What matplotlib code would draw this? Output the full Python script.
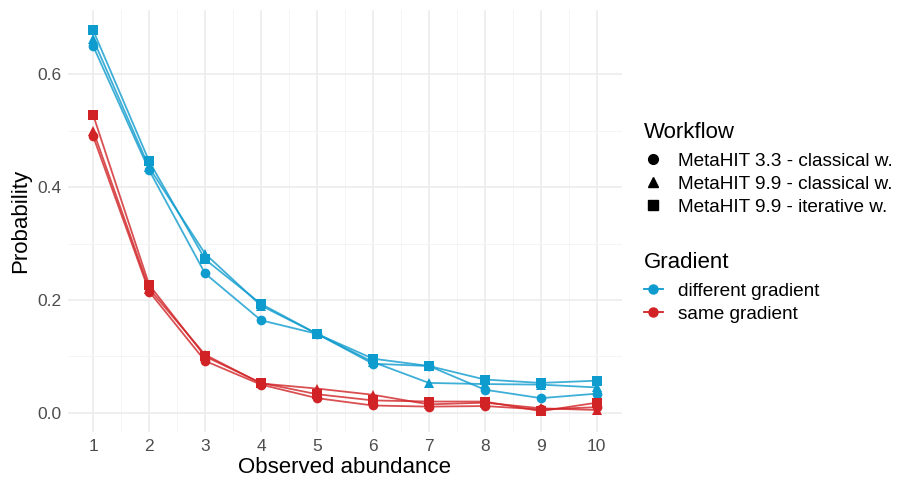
import matplotlib.pyplot as plt
from matplotlib.lines import Line2D

plt.rcParams["font.family"] = ["Liberation Sans", "DejaVu Sans"]

abundance = [1, 2, 3, 4, 5, 6, 7, 8, 9, 10]

# different gradient
diff_m33_classical = [0.650, 0.430, 0.247, 0.164, 0.140, 0.087, 0.083, 0.041, 0.026, 0.034]
diff_m99_classical = [0.662, 0.435, 0.282, 0.190, 0.140, 0.090, 0.053, 0.051, 0.050, 0.045]
diff_m99_iterative = [0.678, 0.446, 0.272, 0.193, 0.140, 0.096, 0.083, 0.059, 0.053, 0.057]

# same gradient
same_m33_classical = [0.490, 0.215, 0.092, 0.050, 0.026, 0.013, 0.011, 0.012, 0.006, 0.010]
same_m99_classical = [0.500, 0.220, 0.103, 0.052, 0.043, 0.032, 0.015, 0.018, 0.008, 0.005]
same_m99_iterative = [0.528, 0.227, 0.100, 0.053, 0.033, 0.022, 0.020, 0.020, 0.003, 0.018]

workflows = ["MetaHIT 3.3 - classical w.", "MetaHIT 9.9 - classical w.", "MetaHIT 9.9 - iterative w."]
gradients = ["different gradient", "same gradient"]

blue = "#0E9BCD"
red = "#D12326"
shapes = ["o", "^", "s"]

fig = plt.figure(figsize=(8.97, 4.79), dpi=100)
ax = fig.add_axes([0.0758, 0.0981, 0.6176, 0.881])

series = [
    (diff_m33_classical, blue, 0), (diff_m99_classical, blue, 1), (diff_m99_iterative, blue, 2),
    (same_m33_classical, red, 0), (same_m99_classical, red, 1), (same_m99_iterative, red, 2),
]
for vals, col, k in series:
    ax.plot(abundance, vals, color=col, lw=1.3, alpha=0.8, zorder=2)
    ax.plot(abundance, vals, ls="none", marker=shapes[k], color=col, ms=7, mew=0, zorder=3)

ax.set_xlim(0.55, 10.45)
ax.set_ylim(-0.034, 0.714)
ax.set_xticks(abundance)
ax.set_xticks([x + 0.5 for x in abundance[:-1]], minor=True)
ax.set_yticks([0.0, 0.2, 0.4, 0.6])
ax.set_yticks([0.1, 0.3, 0.5], minor=True)
ax.set_yticklabels(["0.0", "0.2", "0.4", "0.6"])
ax.grid(which="major", color="#EBEBEB", lw=1.1)
ax.grid(which="minor", color="#F3F3F3", lw=0.6)
ax.set_axisbelow(True)
for s in ax.spines.values():
    s.set_visible(False)
ax.tick_params(which="both", length=0, labelsize=12.5, labelcolor="#4D4D4D", pad=5)
ax.set_xlabel("Observed abundance", fontsize=16, labelpad=2)
ax.set_ylabel("Probability", fontsize=16, labelpad=4)

leg_kw = dict(loc="upper left", frameon=False, fontsize=13.7, title_fontsize=16,
              handlelength=1.0, handletextpad=0.8, labelspacing=0.3, borderaxespad=0)

wf_handles = [Line2D([], [], ls="none", marker=m, color="black", ms=7) for m in shapes]
leg1 = fig.legend(wf_handles, workflows, title="Workflow",
                  bbox_to_anchor=(0.709, 0.762), **leg_kw)
leg1._legend_box.align = "left"
leg1._legend_box.sep = 7

gr_handles = [Line2D([], [], color=c, lw=1.3, marker="o", ms=6.5) for c in (blue, red)]
leg2 = fig.legend(gr_handles, gradients, title="Gradient",
                  bbox_to_anchor=(0.709, 0.4905), **leg_kw)
leg2._legend_box.align = "left"
leg2._legend_box.sep = 7

fig.savefig("out.png", dpi=100)
